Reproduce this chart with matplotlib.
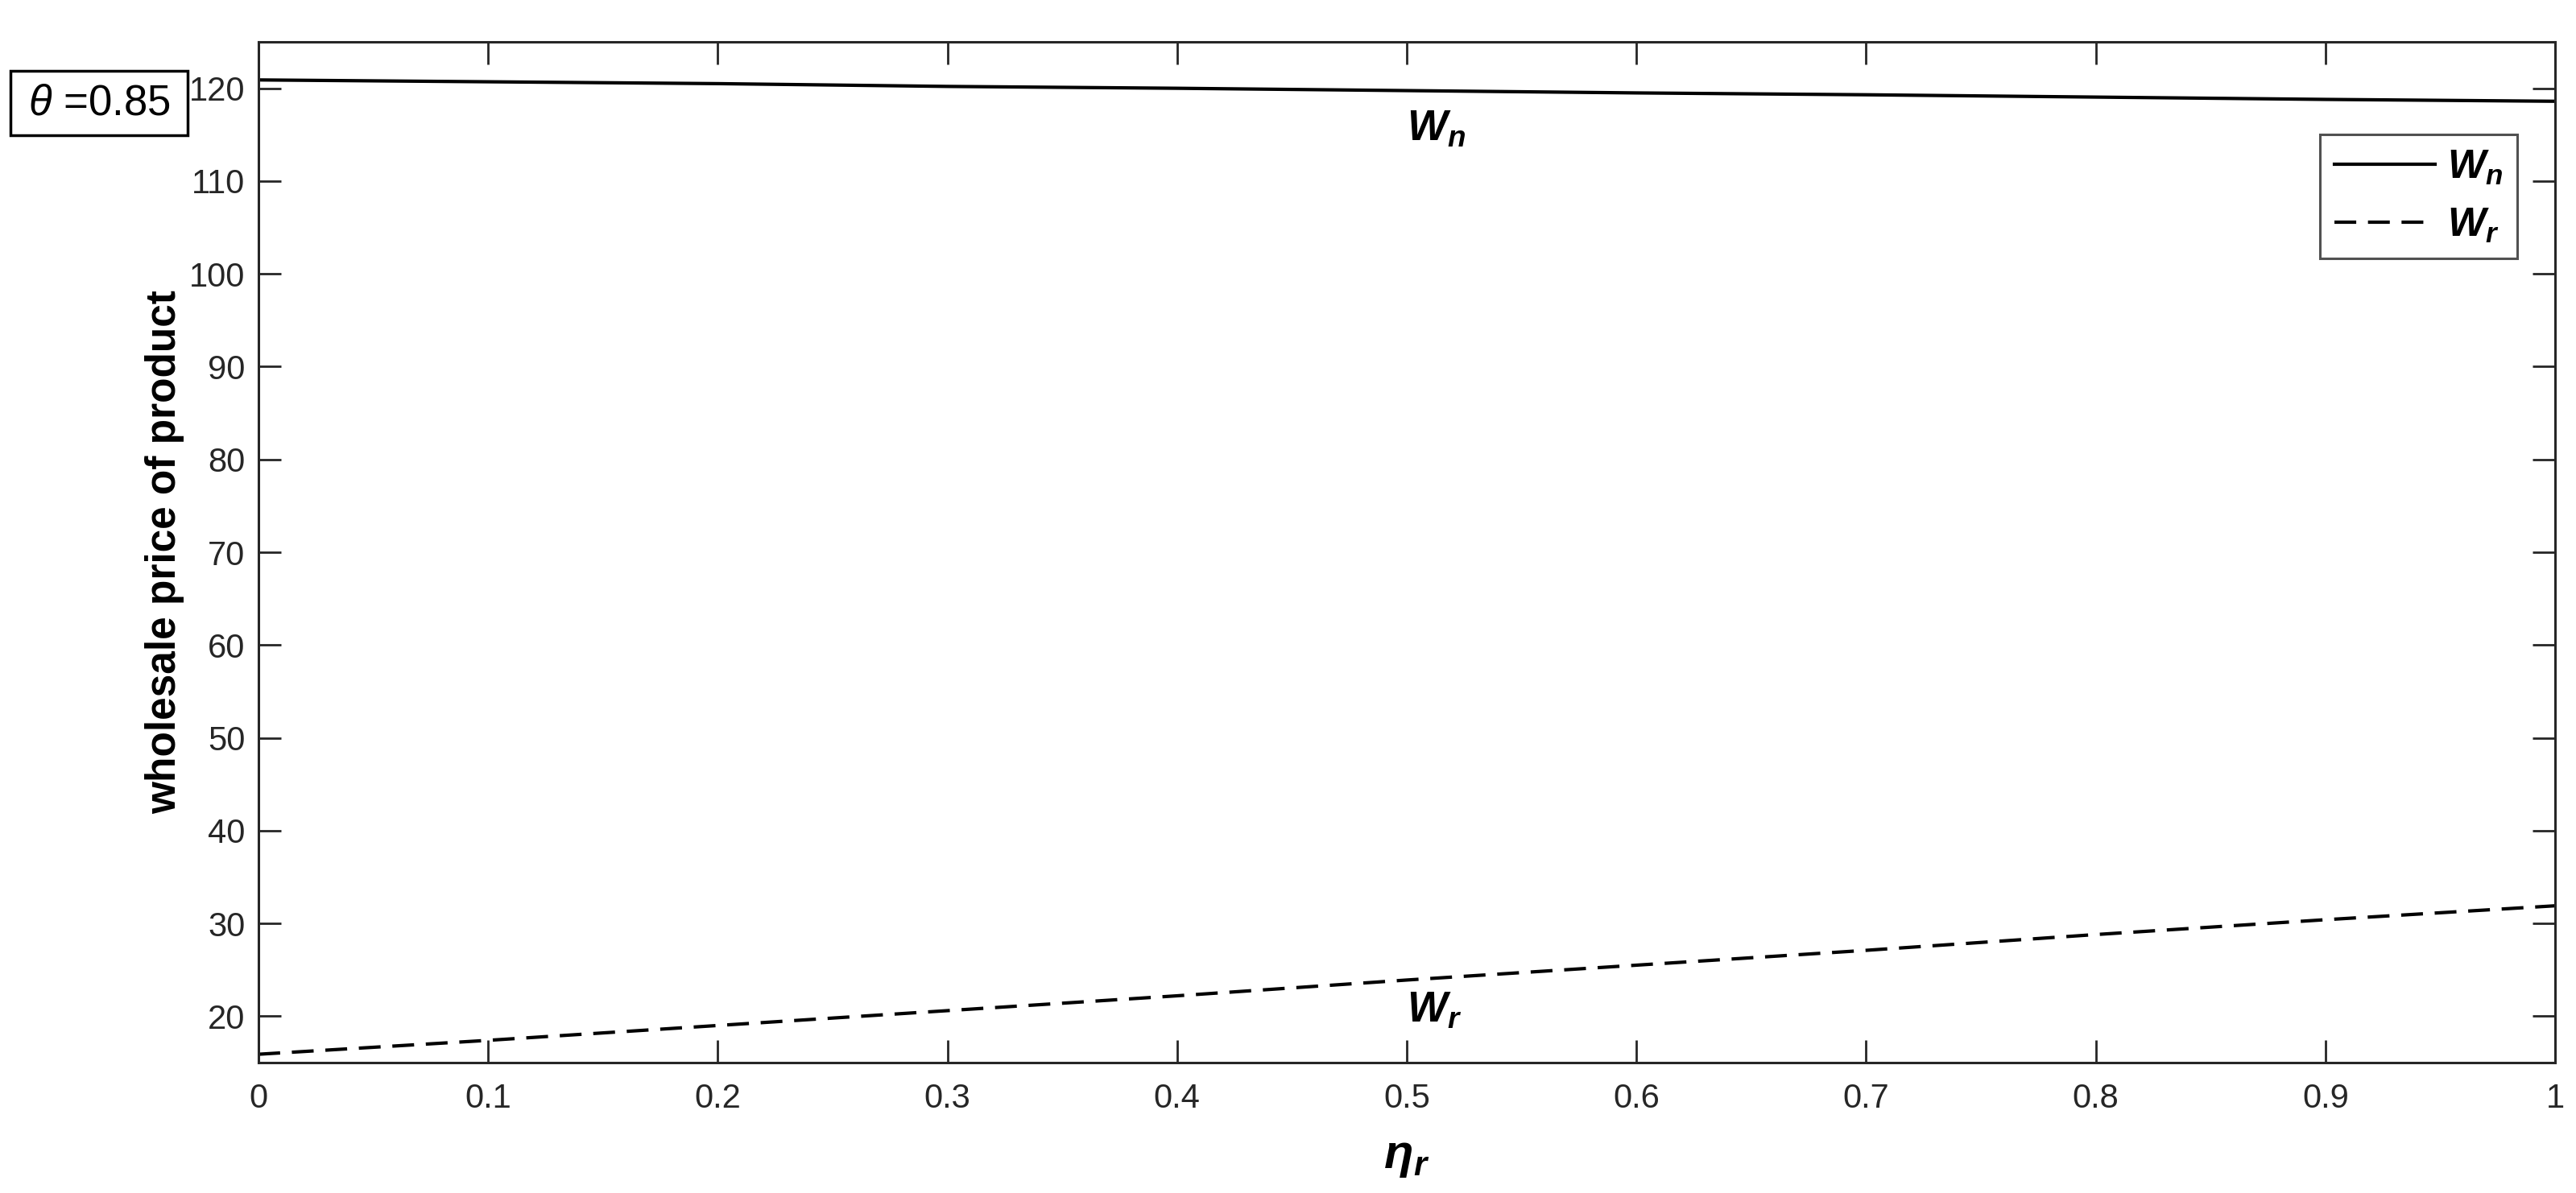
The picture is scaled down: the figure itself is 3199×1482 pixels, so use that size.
import matplotlib
matplotlib.use("Agg")
import matplotlib.pyplot as plt
from matplotlib.patches import Rectangle
import numpy as np

plt.rcParams['font.family'] = ['Liberation Sans', 'DejaVu Sans']
plt.rcParams['mathtext.fontset'] = 'custom'
plt.rcParams['mathtext.it'] = 'Liberation Sans:italic'
plt.rcParams['mathtext.rm'] = 'Liberation Sans'
plt.rcParams['mathtext.bf'] = 'Liberation Sans:bold:italic'

eta_r = [0.0, 0.1, 0.2, 0.3, 0.4, 0.5, 0.6, 0.7, 0.8, 0.9, 1.0]
w_n = [120.9, 120.7, 120.5, 120.2, 120.0, 119.75, 119.5, 119.3, 119.05, 118.8, 118.6]
w_r = [15.9, 17.4, 19.0, 20.6, 22.2, 23.9, 25.5, 27.1, 28.8, 30.4, 31.9]

xticks = [0, 0.1, 0.2, 0.3, 0.4, 0.5, 0.6, 0.7, 0.8, 0.9, 1]
xticklabels = ['0', '0.1', '0.2', '0.3', '0.4', '0.5', '0.6', '0.7', '0.8', '0.9', '1']
yticks = [20, 30, 40, 50, 60, 70, 80, 90, 100, 110, 120]

axc = '#262626'
fig = plt.figure(figsize=(31.99, 14.82), dpi=100)
ax = fig.add_axes([0.1003, 0.1093, 0.8916, 0.8556])

ax.plot(eta_r, w_n, color='black', lw=3, label=r'$\mathbf{W_n}$')
ax.plot(eta_r, w_r, color='black', lw=3, dashes=(6.5, 3.5), label=r'$\mathbf{W_r}$')

ax.set_xlim(0, 1)
ax.set_ylim(15, 125)
ax.set_xticks(xticks)
ax.set_xticklabels(xticklabels)
ax.set_yticks(yticks)
ax.tick_params(direction='in', length=20, width=2, colors=axc, labelsize=30,
               top=True, right=True, pad=12)
ax.tick_params(axis='x', pad=18)
for s in ax.spines.values():
    s.set_linewidth(2.2)
    s.set_color(axc)

ax.set_ylabel('wholesale price of product', fontsize=37, fontweight='bold', labelpad=4)
ax.set_xlabel(r'$\mathbf{\eta_r}$', fontsize=43, labelpad=18)

ax.text(0.5, 114.4, r'$\mathbf{W_n}$', fontsize=38, ha='left', va='baseline')
ax.text(0.5, 19.4, r'$\mathbf{W_r}$', fontsize=38, ha='left', va='baseline')

leg = ax.legend(loc='upper right', bbox_to_anchor=(0.9835, 0.9093), fontsize=36,
                frameon=True, fancybox=False, edgecolor=axc, handlelength=2.5,
                handletextpad=0.3, borderpad=0.35, labelspacing=0.5,
                borderaxespad=0)
leg.get_frame().set_linewidth(2.2)

fig.patches.append(Rectangle((0.00406, 0.8866), 0.0688, 0.054, transform=fig.transFigure,
                             facecolor='white', edgecolor='black', linewidth=2.5))
fig.text(0.0384, 0.9136, r'$\theta$ =0.85', fontsize=38, ha='center', va='center')

fig.savefig('out.png', dpi=100)
